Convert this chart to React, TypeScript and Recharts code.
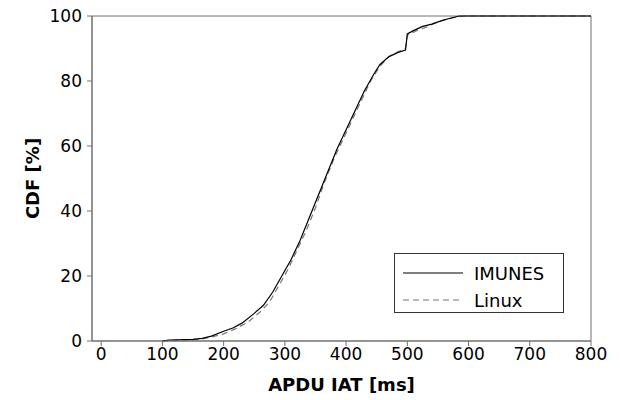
import { LineChart, Line, XAxis, YAxis, ReferenceArea } from 'recharts';

// APDU inter-arrival time CDF
const imunesMs = [100, 110, 150, 165, 180, 200, 215, 230, 250, 265, 280, 295, 310, 325, 340, 355, 370, 385, 400, 415, 430, 445, 455, 470, 485, 497, 500, 510, 525, 540, 555, 570, 585, 800];
const imunesCdf = [0, 0.3, 0.5, 0.8, 1.5, 3, 4, 5.5, 8.5, 11, 15, 20, 25, 31, 38, 45, 52, 59, 65, 71, 77, 82, 85, 87.5, 88.8, 89.5, 94.5, 95.5, 96.8, 97.5, 98.5, 99.3, 100, 100];

const linuxMs = [100, 120, 160, 180, 200, 220, 240, 260, 275, 290, 305, 320, 335, 350, 365, 380, 395, 410, 425, 440, 455, 470, 485, 497, 500, 515, 530, 545, 560, 575, 595, 800];
const linuxCdf = [0, 0.2, 0.5, 1.2, 2.2, 3.8, 5.8, 9, 12, 17, 22, 28, 34, 41, 49, 56, 62, 68, 74, 80, 84.5, 87.5, 89, 90, 94, 95.5, 96.5, 97.8, 98.8, 99.5, 100, 100];

const xTicks = [0, 100, 200, 300, 400, 500, 600, 700, 800];
const yTicks = [0, 20, 40, 60, 80, 100];

const imunes = imunesMs.map((x, i) => ({ x, y: imunesCdf[i] }));
const linux = linuxMs.map((x, i) => ({ x, y: linuxCdf[i] }));

const font = '"DejaVu Sans", Verdana, sans-serif';
const axisColor = '#707070';

export default function App() {
  return (
    <div style={{ position: 'absolute', left: 0, top: 0, width: 620, height: 400, background: '#fff', fontFamily: font }}>
      <LineChart width={620} height={400} margin={{ top: 16, right: 29, left: 0, bottom: 0 }}>
        <XAxis
          type="number"
          dataKey="x"
          domain={[-15, 800]}
          ticks={xTicks}
          allowDataOverflow
          height={59}
          tickSize={5}
          tickMargin={2}
          stroke={axisColor}
          tick={{ fill: '#000', fontSize: 17, fontFamily: font }}
          label={{ value: 'APDU IAT [ms]', position: 'insideBottom', offset: 9, fill: '#000', fontSize: 18, fontWeight: 'bold', fontFamily: font }}
        />
        <YAxis
          type="number"
          domain={[0, 100]}
          ticks={yTicks}
          width={92}
          tickSize={5}
          tickMargin={5}
          stroke={axisColor}
          tick={{ fill: '#000', fontSize: 17, fontFamily: font }}
          label={{ value: 'CDF [%]', angle: -90, position: 'insideLeft', offset: 33, style: { textAnchor: 'middle' }, fill: '#000', fontSize: 18, fontWeight: 'bold', fontFamily: font }}
        />
        <ReferenceArea x1={-15} x2={800} y1={0} y2={100} fill="none" stroke={axisColor} strokeWidth={1} ifOverflow="visible" />
        <Line
          data={linux}
          dataKey="y"
          type="linear"
          stroke="#777"
          strokeWidth={1.2}
          strokeDasharray="6 4"
          dot={false}
          isAnimationActive={false}
        />
        <Line
          data={imunes}
          dataKey="y"
          type="linear"
          stroke="#000"
          strokeWidth={1.2}
          dot={false}
          isAnimationActive={false}
        />
      </LineChart>
      <div
        style={{
          position: 'absolute',
          left: 394,
          top: 253,
          width: 170,
          height: 60,
          border: '1px solid #333',
          background: '#fff',
          boxSizing: 'border-box',
        }}
      >
        <svg width={170} height={60} style={{ position: 'absolute', left: 0, top: 0 }}>
          <line x1={8} x2={68} y1={19} y2={19} stroke="#000" strokeWidth={1.2} />
          <line x1={8} x2={68} y1={46} y2={46} stroke="#777" strokeWidth={1.2} strokeDasharray="6 4" />
          <text x={79} y={19} dominantBaseline="central" fontSize={18} fontFamily={font} fill="#000">IMUNES</text>
          <text x={79} y={46} dominantBaseline="central" fontSize={18} fontFamily={font} fill="#000">Linux</text>
        </svg>
      </div>
    </div>
  );
}
